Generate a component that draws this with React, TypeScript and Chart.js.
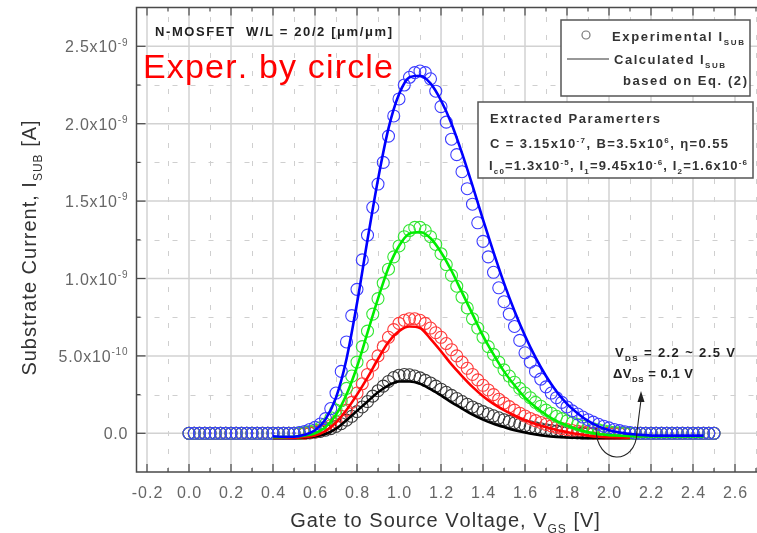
import React, { useEffect, useRef } from 'react';
import { Chart, registerables } from 'chart.js';

Chart.register(...registerables);

const FONT = '"Liberation Sans", Arial, Helvetica, sans-serif';

// Gate-source voltage of experimental points [V]
const VGS_EXP = [
  0, 0.025, 0.05, 0.075, 0.1, 0.125, 0.15, 0.175, 0.2, 0.225, 0.25, 0.275, 0.3, 0.325, 0.35, 0.375,
  0.4, 0.425, 0.45, 0.475, 0.5, 0.525, 0.55, 0.575, 0.6, 0.625, 0.65, 0.675, 0.7, 0.725, 0.75, 0.775,
  0.8, 0.825, 0.85, 0.875, 0.9, 0.925, 0.95, 0.975, 1.0, 1.025, 1.05, 1.075, 1.1, 1.125, 1.15, 1.175,
  1.2, 1.225, 1.25, 1.275, 1.3, 1.325, 1.35, 1.375, 1.4, 1.425, 1.45, 1.475, 1.5, 1.525, 1.55, 1.575,
  1.6, 1.625, 1.65, 1.675, 1.7, 1.725, 1.75, 1.775, 1.8, 1.825, 1.85, 1.875, 1.9, 1.925, 1.95, 1.975,
  2.0, 2.025, 2.05, 2.075, 2.1, 2.125, 2.15, 2.175, 2.2, 2.225, 2.25, 2.275, 2.3, 2.325, 2.35, 2.375,
  2.4, 2.425, 2.45, 2.475, 2.5,
];

// Experimental substrate current, units of 1e-10 A
const EXP_BLUE = [
  0, 0, 0, 0, 0, 0, 0, 0, 0, 0, 0, 0, 0, 0, 0, 0, 0, 0, 0, 0, 0,
  0.05, 0.12, 0.25, 0.38, 0.6, 0.95, 1.6, 2.6, 4.0, 5.9, 7.6, 9.3, 11.2, 12.8, 14.6, 16.1, 17.5, 19.2,
  20.5, 21.6, 22.5, 23.0, 23.3, 23.4, 23.3, 22.9, 22.1, 21.1, 20.1, 19.0, 18.0, 16.9, 15.8, 14.8, 13.6,
  12.4, 11.4, 10.4, 9.4, 8.5, 7.7, 6.9, 6.0, 5.2, 4.6, 4.0, 3.5, 3.0, 2.6, 2.3, 2.0, 1.7, 1.45, 1.25,
  1.05, 0.88, 0.72, 0.58, 0.46, 0.35, 0.25, 0.17, 0.1, 0.05,
  0, 0, 0, 0, 0, 0, 0, 0, 0, 0, 0, 0, 0, 0, 0, 0,
];
const EXP_GREEN = [
  0, 0, 0, 0, 0, 0, 0, 0, 0, 0, 0, 0, 0, 0, 0, 0, 0, 0, 0, 0, 0, 0,
  0.05, 0.12, 0.2, 0.35, 0.6, 1.0, 1.5, 2.1, 2.9, 3.7, 4.6, 5.6, 6.6, 7.7, 8.7, 9.7, 10.6, 11.4, 12.1,
  12.7, 13.1, 13.3, 13.3, 13.1, 12.7, 12.2, 11.6, 10.9, 10.2, 9.5, 8.8, 8.1, 7.4, 6.8, 6.2, 5.6, 5.1,
  4.6, 4.1, 3.7, 3.3, 2.9, 2.6, 2.3, 2.0, 1.75, 1.5, 1.3, 1.1, 0.95, 0.8, 0.68, 0.56, 0.46, 0.37, 0.29,
  0.22, 0.16, 0.11, 0.07, 0.04, 0.02,
  0, 0, 0, 0, 0, 0, 0, 0, 0, 0, 0, 0, 0, 0, 0, 0, 0,
];
const EXP_RED = [
  0, 0, 0, 0, 0, 0, 0, 0, 0, 0, 0, 0, 0, 0, 0, 0, 0, 0, 0, 0, 0, 0, 0,
  0.05, 0.1, 0.2, 0.32, 0.5, 0.75, 1.1, 1.5, 2.0, 2.6, 3.2, 3.8, 4.4, 5.0, 5.6, 6.2, 6.7, 7.1, 7.3, 7.4,
  7.4, 7.3, 7.1, 6.8, 6.5, 6.2, 5.8, 5.4, 5.0, 4.6, 4.2, 3.8, 3.45, 3.1, 2.8, 2.5, 2.2, 1.95, 1.72, 1.5,
  1.3, 1.12, 0.96, 0.82, 0.7, 0.58, 0.48, 0.39, 0.31, 0.24, 0.18, 0.13, 0.09, 0.05, 0.02,
  0, 0, 0, 0, 0, 0, 0, 0, 0, 0, 0, 0, 0, 0, 0, 0, 0, 0, 0, 0, 0, 0, 0,
];
const EXP_BLACK = [
  0, 0, 0, 0, 0, 0, 0, 0, 0, 0, 0, 0, 0, 0, 0, 0, 0, 0, 0, 0, 0, 0, 0,
  0.03, 0.07, 0.12, 0.2, 0.3, 0.45, 0.62, 0.85, 1.1, 1.4, 1.7, 2.05, 2.4, 2.75, 3.05, 3.35, 3.6, 3.75,
  3.8, 3.78, 3.7, 3.58, 3.42, 3.25, 3.05, 2.85, 2.65, 2.45, 2.25, 2.05, 1.88, 1.7, 1.55, 1.4, 1.26, 1.13,
  1.0, 0.88, 0.77, 0.67, 0.58, 0.5, 0.42, 0.35, 0.29, 0.23, 0.18, 0.14, 0.1, 0.07, 0.04, 0.02,
  0, 0, 0, 0, 0, 0, 0, 0, 0, 0, 0, 0, 0, 0, 0, 0, 0, 0, 0, 0, 0, 0, 0, 0, 0, 0,
];

// Calculated curves (Eq. 2)
const VGS_CALC = [
  0.4, 0.45, 0.5, 0.55, 0.6, 0.65, 0.7, 0.75, 0.8, 0.85, 0.9, 0.95, 1.0, 1.05, 1.1, 1.15, 1.2, 1.25,
  1.3, 1.35, 1.4, 1.45, 1.5, 1.55, 1.6, 1.65, 1.7, 1.75, 1.8, 1.85, 1.9, 1.95, 2.0, 2.05, 2.1, 2.15,
  2.2, 2.25, 2.3, 2.35, 2.4, 2.45,
];
const CALC_BLUE = [
  -0.2, -0.22, -0.22, -0.1, 0.2, 0.9, 2.3, 4.8, 8.4, 12.5, 16.4, 19.7, 21.9, 23.0, 23.1, 22.6, 21.5,
  20.0, 18.1, 16.0, 13.8, 11.7, 9.7, 7.9, 6.3, 4.9, 3.7, 2.7, 1.9, 1.3, 0.8, 0.45, 0.2, 0.05, -0.05,
  -0.1, -0.15, -0.15, -0.15, -0.15, -0.15, -0.15,
];
const CALC_GREEN = [
  -0.25, -0.25, -0.22, -0.15, 0.0, 0.4, 1.2, 2.5, 4.3, 6.5, 8.7, 10.7, 12.1, 12.9, 13.0, 12.6, 11.7,
  10.5, 9.1, 7.7, 6.3, 5.1, 4.0, 3.1, 2.3, 1.7, 1.2, 0.8, 0.5, 0.25, 0.08, -0.05, -0.12, -0.15, -0.18,
  -0.2, -0.2, -0.2, -0.2, -0.2, -0.2, -0.2,
];
const CALC_RED = [
  -0.3, -0.3, -0.3, -0.25, -0.15, 0.15, 0.7, 1.5, 2.5, 3.6, 4.8, 5.9, 6.6, 6.9, 6.8, 6.1, 5.3, 4.45,
  3.7, 3.0, 2.4, 1.9, 1.5, 1.15, 0.85, 0.6, 0.4, 0.22, 0.08, -0.05, -0.15, -0.22, -0.25, -0.27, -0.28,
];
const CALC_BLACK = [
  -0.3, -0.3, -0.3, -0.28, -0.2, -0.05, 0.3, 0.85, 1.45, 2.05, 2.65, 3.1, 3.35, 3.35, 3.2, 2.85, 2.45,
  2.0, 1.6, 1.2, 0.88, 0.62, 0.4, 0.2, 0.05, -0.07, -0.17, -0.23, -0.27, -0.29, -0.3, -0.3, -0.3, -0.3,
  -0.3,
];

// Axis ticks
const X_MAJOR = [-0.2, 0.0, 0.2, 0.4, 0.6, 0.8, 1.0, 1.2, 1.4, 1.6, 1.8, 2.0, 2.2, 2.4, 2.6];
const X_LABELS = ['-0.2', '0.0', '0.2', '0.4', '0.6', '0.8', '1.0', '1.2', '1.4', '1.6', '1.8', '2.0', '2.2', '2.4', '2.6'];
const X_MINOR = [-0.1, 0.1, 0.3, 0.5, 0.7, 0.9, 1.1, 1.3, 1.5, 1.7, 1.9, 2.1, 2.3, 2.5, 2.7];
const Y_MAJOR = [0, 5, 10, 15, 20, 25];
const Y_MANTISSA = ['0.0', '5.0x10', '1.0x10', '1.5x10', '2.0x10', '2.5x10'];
const Y_EXPONENT = ['', '-10', '-9', '-9', '-9', '-9'];
const Y_MINOR = [2.5, 7.5, 12.5, 17.5, 22.5];

type Part = [string, 'n' | 'sup' | 'sub'];

function drawRich(
  ctx: CanvasRenderingContext2D,
  parts: Part[],
  x: number,
  y: number,
  size: number,
  opts: { bold?: boolean; color?: string; align?: 'left' | 'right' | 'center'; width?: number; ls?: number } = {}
) {
  const { bold = false, color = '#000', align = 'left', width, ls = 0 } = opts;
  const weight = bold ? 'bold ' : '';
  const segs = parts.map(([t, k]) => {
    const s = k === 'n' ? size : Math.round(size * 0.62);
    const dy = k === 'sup' ? -size * 0.42 : k === 'sub' ? size * 0.3 : 0;
    ctx.font = `${weight}${s}px ${FONT}`;
    const chars = Array.from(t).map((c) => ({ c, w: ctx.measureText(c).width }));
    return { s, dy, chars };
  });
  const nChars = segs.reduce((a, s) => a + s.chars.length, 0);
  const natural = segs.reduce((a, s) => a + s.chars.reduce((b, c) => b + c.w, 0), 0);
  let spacing = ls;
  if (width) spacing = (width - natural) / Math.max(1, nChars - 1);
  const total = natural + spacing * (nChars - 1);
  let cx = align === 'left' ? x : align === 'right' ? x - total : x - total / 2;
  ctx.fillStyle = color;
  ctx.textAlign = 'left';
  ctx.textBaseline = 'alphabetic';
  segs.forEach((seg) => {
    ctx.font = `${weight}${seg.s}px ${FONT}`;
    seg.chars.forEach((ch) => {
      ctx.fillText(ch.c, cx, y + seg.dy);
      cx += ch.w + spacing;
    });
  });
}

const gridPlugin = {
  id: 'customGrid',
  beforeDatasetsDraw(chart: any) {
    const { ctx, chartArea: a, scales } = chart;
    const xs = scales.x;
    const ys = scales.y;
    ctx.save();
    ctx.beginPath();
    ctx.rect(a.left, a.top, a.right - a.left, a.bottom - a.top);
    ctx.clip();
    // minor dashed grid
    ctx.strokeStyle = '#cfcfcf';
    ctx.lineWidth = 1;
    ctx.setLineDash([5, 13]);
    X_MINOR.forEach((v) => {
      const p = Math.round(xs.getPixelForValue(v)) + 0.5;
      ctx.beginPath();
      ctx.moveTo(p, a.bottom);
      ctx.lineTo(p, a.top);
      ctx.stroke();
    });
    Y_MINOR.forEach((v) => {
      const p = Math.round(ys.getPixelForValue(v)) + 0.5;
      ctx.beginPath();
      ctx.moveTo(a.left, p);
      ctx.lineTo(a.right, p);
      ctx.stroke();
    });
    // major solid grid
    ctx.setLineDash([]);
    ctx.strokeStyle = '#d2d2d2';
    ctx.lineWidth = 1.5;
    X_MAJOR.forEach((v) => {
      const p = xs.getPixelForValue(v);
      ctx.beginPath();
      ctx.moveTo(p, a.bottom);
      ctx.lineTo(p, a.top);
      ctx.stroke();
    });
    Y_MAJOR.forEach((v) => {
      const p = ys.getPixelForValue(v);
      ctx.beginPath();
      ctx.moveTo(a.left, p);
      ctx.lineTo(a.right, p);
      ctx.stroke();
    });
    ctx.restore();
  },
  afterDraw(chart: any) {
    const { ctx, chartArea: a, scales } = chart;
    const xs = scales.x;
    const ys = scales.y;
    ctx.save();
    // frame
    ctx.strokeStyle = '#4a4a4a';
    ctx.lineWidth = 1.5;
    ctx.beginPath();
    ctx.moveTo(a.right, a.top);
    ctx.lineTo(a.left, a.top);
    ctx.lineTo(a.left, a.bottom);
    ctx.lineTo(a.right, a.bottom);
    ctx.stroke();
    // ticks (inward)
    ctx.lineWidth = 1.2;
    const tick = (x1: number, y1: number, x2: number, y2: number) => {
      ctx.beginPath();
      ctx.moveTo(x1, y1);
      ctx.lineTo(x2, y2);
      ctx.stroke();
    };
    X_MAJOR.forEach((v) => {
      const p = xs.getPixelForValue(v);
      tick(p, a.bottom, p, a.bottom - 8);
      tick(p, a.top, p, a.top + 8);
    });
    X_MINOR.forEach((v) => {
      const p = xs.getPixelForValue(v);
      tick(p, a.bottom, p, a.bottom - 4);
      tick(p, a.top, p, a.top + 4);
    });
    Y_MAJOR.forEach((v) => {
      const p = ys.getPixelForValue(v);
      tick(a.left, p, a.left + 9, p);
    });
    Y_MINOR.forEach((v) => {
      const p = ys.getPixelForValue(v);
      tick(a.left, p, a.left + 4, p);
    });

    // tick labels
    X_MAJOR.forEach((v, i) => {
      drawRich(ctx, [[X_LABELS[i], 'n']], xs.getPixelForValue(v), a.bottom + 26, 16, {
        color: '#666',
        align: 'center',
        ls: 1,
      });
    });
    Y_MAJOR.forEach((v, i) => {
      const parts: Part[] = [[Y_MANTISSA[i], 'n']];
      if (Y_EXPONENT[i]) parts.push([Y_EXPONENT[i], 'sup']);
      drawRich(ctx, parts, a.left - 9, ys.getPixelForValue(v) + 6, 16, {
        color: '#666',
        align: 'right',
        ls: 0.8,
      });
    });

    // axis titles
    drawRich(ctx, [['Gate to Source Voltage, V', 'n'], ['GS', 'sub'], [' [V]', 'n']], 445, 527, 20, {
      color: '#333',
      align: 'center',
      ls: 1,
    });
    ctx.save();
    ctx.translate(36, 248);
    ctx.rotate(-Math.PI / 2);
    drawRich(ctx, [['Substrate Current, I', 'n'], ['SUB', 'sub'], [' [A]', 'n']], 0, 0, 20, {
      color: '#333',
      align: 'center',
      ls: 1,
    });
    ctx.restore();

    // header annotation
    drawRich(ctx, [['N-MOSFET  W/L = 20/2 [\u03BCm/\u03BCm]', 'n']], 155, 36, 13, {
      bold: true,
      color: '#222',
      width: 237,
    });
    drawRich(ctx, [['Exper. by circle', 'n']], 143, 78, 34, { color: '#ff0000', width: 250 });

    // legend box
    ctx.fillStyle = '#ffffff';
    ctx.fillRect(561, 20, 189, 76);
    ctx.strokeStyle = '#555';
    ctx.lineWidth = 1.5;
    ctx.strokeRect(561, 20, 189, 76);
    ctx.strokeStyle = '#777';
    ctx.lineWidth = 1.2;
    ctx.beginPath();
    ctx.arc(586, 35, 4, 0, Math.PI * 2);
    ctx.stroke();
    drawRich(ctx, [['Experimental I', 'n'], ['SUB', 'sub']], 612, 41, 13, { bold: true, color: '#333', width: 132 });
    ctx.strokeStyle = '#333';
    ctx.lineWidth = 1.2;
    tick(567, 59, 609, 59);
    drawRich(ctx, [['Calculated I', 'n'], ['SUB', 'sub']], 614, 64, 13, { bold: true, color: '#333', width: 111 });
    drawRich(ctx, [['based on Eq. (2)', 'n']], 623, 85, 13, { bold: true, color: '#333', width: 124 });

    // parameter box
    ctx.fillStyle = '#ffffff';
    ctx.fillRect(478, 102, 275, 76);
    ctx.strokeStyle = '#555';
    ctx.lineWidth = 1.5;
    ctx.strokeRect(478, 102, 275, 76);
    drawRich(ctx, [['Extracted Paramerters', 'n']], 490, 123, 13, { bold: true, color: '#333', width: 170 });
    drawRich(
      ctx,
      [
        ['C = 3.15x10', 'n'],
        ['-7', 'sup'],
        [', B=3.5x10', 'n'],
        ['6', 'sup'],
        [', \u03B7=0.55', 'n'],
      ],
      490,
      148,
      13,
      { bold: true, color: '#333', width: 238 }
    );
    drawRich(
      ctx,
      [
        ['I', 'n'],
        ['c0', 'sub'],
        ['=1.3x10', 'n'],
        ['-5', 'sup'],
        [', I', 'n'],
        ['1', 'sub'],
        ['=9.45x10', 'n'],
        ['-6', 'sup'],
        [', I', 'n'],
        ['2', 'sub'],
        ['=1.6x10', 'n'],
        ['-6', 'sup'],
      ],
      489,
      170,
      13,
      { bold: true, color: '#333', width: 258 }
    );

    // V_DS annotation
    drawRich(ctx, [['V', 'n'], ['DS', 'sub'], [' = 2.2 ~ 2.5 V', 'n']], 615, 357, 13, {
      bold: true,
      color: '#222',
      width: 120,
    });
    drawRich(ctx, [['\u0394V', 'n'], ['DS', 'sub'], [' = 0.1 V', 'n']], 613, 378, 13, {
      bold: true,
      color: '#222',
      width: 80,
    });
    // curved arrow
    ctx.strokeStyle = '#222';
    ctx.lineWidth = 1.1;
    ctx.beginPath();
    ctx.moveTo(596, 428);
    ctx.bezierCurveTo(596, 466, 636, 466, 637, 432);
    ctx.quadraticCurveTo(639, 415, 641, 400);
    ctx.stroke();
    ctx.fillStyle = '#222';
    ctx.beginPath();
    ctx.moveTo(641, 391);
    ctx.lineTo(637.5, 402);
    ctx.lineTo(644.5, 402);
    ctx.closePath();
    ctx.fill();

    ctx.restore();
  },
};

function zip(xs: number[], ys: number[]) {
  const n = Math.min(xs.length, ys.length);
  const out: { x: number; y: number }[] = [];
  for (let i = 0; i < n; i++) out.push({ x: xs[i], y: ys[i] });
  return out;
}

export default function App() {
  const ref = useRef<HTMLCanvasElement | null>(null);
  useEffect(() => {
    if (!ref.current) return;
    const expSet = (data: number[], color: string, order: number) => ({
      type: 'scatter' as const,
      data: zip(VGS_EXP, data),
      showLine: false,
      pointRadius: 6,
      pointBorderWidth: 1.1,
      pointBackgroundColor: 'rgba(0,0,0,0)',
      pointBorderColor: color,
      order,
    });
    const calcSet = (data: number[], color: string, order: number) => ({
      type: 'scatter' as const,
      data: zip(VGS_CALC, data),
      showLine: true,
      pointRadius: 0,
      borderWidth: 2.6,
      borderColor: color,
      cubicInterpolationMode: 'monotone' as const,
      order,
    });
    const chart = new Chart(ref.current, {
      type: 'scatter',
      data: {
        datasets: [
          expSet(EXP_BLACK, '#3a3a3a', 9),
          expSet(EXP_RED, '#ff3a3a', 8),
          expSet(EXP_GREEN, '#33e633', 7),
          expSet(EXP_BLUE, '#3c3cff', 6),
          calcSet(CALC_BLACK, '#000000', 4),
          calcSet(CALC_RED, '#ff0000', 3),
          calcSet(CALC_GREEN, '#00ee00', 2),
          calcSet(CALC_BLUE, '#0000ff', 1),
        ] as any,
      },
      options: {
        responsive: false,
        animation: false,
        events: [],
        layout: { padding: { left: 136.5, right: 13, top: 7.6, bottom: 61 } },
        plugins: { legend: { display: false }, tooltip: { enabled: false } },
        scales: {
          x: { type: 'linear', min: -0.25, max: 2.8, display: false },
          y: { type: 'linear', min: -2.5, max: 27.5, display: false },
        },
      },
      plugins: [gridPlugin],
    });
    return () => chart.destroy();
  }, []);
  return (
    <div
      style={{
        position: 'fixed',
        left: 0,
        top: 0,
        width: 757,
        height: 533,
        overflow: 'hidden',
        background: '#ffffff',
      }}
    >
      <canvas ref={ref} width={790} height={533} style={{ display: 'block', width: 790, height: 533 }} />
    </div>
  );
}
